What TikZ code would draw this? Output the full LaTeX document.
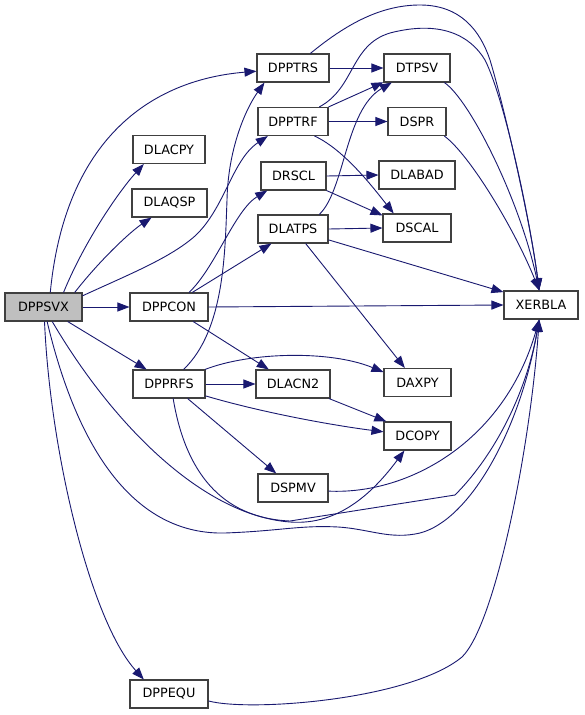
\documentclass[tikz,border=0pt]{standalone}
\usepackage{fontspec}
\setmainfont{DejaVu Sans}
\usetikzlibrary{arrows.meta}
\definecolor{edgec}{HTML}{191970}
\definecolor{rootfill}{HTML}{BFBFBF}
\begin{document}
\begin{tikzpicture}[x=1pt,y=-1pt,
  box/.style={draw=black!75, line width=1.1pt, fill=white, minimum height=28pt, inner sep=0pt, font=\fontsize{12.8}{15}\selectfont},
  call/.style={draw=edgec, line width=0.9pt, -{Triangle[length=12pt,width=9pt]}}]
\fill[white] (0,0) rectangle (584,715);
\useasboundingbox (0,0) rectangle (584,715);

\node[box, fill=rootfill, minimum width=77pt] (dppsvx) at (43.5,307) {DPPSVX};
\node[box, minimum width=72pt] (dlacpy) at (169,149.5) {DLACPY};
\node[box, minimum width=75pt] (dlaqsp) at (169.5,203) {DLAQSP};
\node[box, minimum width=78pt] (dppcon) at (169,307) {DPPCON};
\node[box, minimum width=72pt] (dpprfs) at (169,384) {DPPRFS};
\node[box, minimum width=78pt] (dppequ) at (169,694) {DPPEQU};
\node[box, minimum width=72pt] (dpptrs) at (293,68) {DPPTRS};
\node[box, minimum width=70pt] (dpptrf) at (293,121.5) {DPPTRF};
\node[box, minimum width=65pt] (drscl) at (293.5,176) {DRSCL};
\node[box, minimum width=70pt] (dlatps) at (293,229) {DLATPS};
\node[box, minimum width=74pt] (dlacn2) at (293,384) {DLACN2};
\node[box, minimum width=70pt] (dspmv) at (293,488) {DSPMV};
\node[box, minimum width=66pt] (dtpsv) at (417,68) {DTPSV};
\node[box, minimum width=58pt] (dspr) at (417,121.5) {DSPR};
\node[box, minimum width=76pt] (dlabad) at (417,175) {DLABAD};
\node[box, minimum width=68pt] (dscal) at (417,228) {DSCAL};
\node[box, minimum width=67pt] (daxpy) at (417.5,382.5) {DAXPY};
\node[box, minimum width=67pt] (dcopy) at (417.5,436) {DCOPY};
\node[box, minimum width=74pt] (xerbla) at (541,305) {XERBLA};

% DPPSVX
\draw[call] (dppsvx.65) .. controls (65,140) and (150,80) .. (dpptrs.185);
\draw[call] (dppsvx.36) .. controls (85,240) and (120,190) .. (dlacpy.210);
\draw[call] (dppsvx.25) .. controls (100,260) and (130,232) .. (dlaqsp.219);
\draw[call] (dppsvx.16) .. controls (130,274) and (170,258) .. (195,236) .. controls (225,208) and (232,160) .. (dpptrf.210);
\draw[call] (dppsvx.east) -- (dppcon.west);
\draw[call] (dppsvx.-31) -- (dpprfs.147);
\draw[call] (dppsvx.-86) .. controls (50,450) and (90,620) .. (dppequ.150);
\draw[call] (dppsvx.-59) .. controls (110,420) and (200,515) .. (290,522) .. controls (340,526) and (375,490) .. (dcopy.228);
\draw[call] (dppsvx.-76) .. controls (80,460) and (140,535) .. (225,533) .. controls (280,531) and (300,525) .. (338,527) .. controls (370,529) and (390,540) .. (420,533) .. controls (470,520) and (520,430) .. (xerbla.263);

% DPPRFS
\draw[call] (dpprfs.45) .. controls (225,330) and (225,250) .. (227,200) .. controls (228,150) and (245,110) .. (dpptrs.207);
\draw[call] (dpprfs.east) -- (dlacn2.west);
\draw[call] (dpprfs.22) .. controls (250,352) and (330,350) .. (daxpy.163);
\draw[call] (dpprfs.-18) .. controls (260,412) and (330,425) .. (dcopy.173);
\draw[call] (dpprfs.-38) -- (dspmv.139);
\draw[call] (dpprfs.-74) .. controls (185,470) and (220,518) .. (290,521) -- (455,495) .. controls (490,460) and (525,400) .. (xerbla.263);

% DPPCON
\draw[call] (dppcon.36) .. controls (215,268) and (235,210) .. (drscl.209);
\draw[call] (dppcon.32) -- (dlatps.214);
\draw[call] (dppcon.-31) -- (dlacn2.149);
\draw[call] (dppcon.east) -- (xerbla.west);

% DPPTRS
\draw[call] (dpptrs.east) -- (dtpsv.west);
\draw[call] (dpptrs.40) .. controls (345,25) and (380,5) .. (420,5) .. controls (460,5) and (480,30) .. (490,60) .. controls (505,110) and (530,220) .. (xerbla.97);

% DPPTRF
\draw[call] (dpptrf.north east) -- (dtpsv.203);
\draw[call] (dpptrf.east) -- (dspr.west);
\draw[call] (dpptrf.-34) .. controls (345,150) and (375,190) .. (dscal.148);
\draw[call] (dpptrf.29) .. controls (355,88) and (350,45) .. (390,33) .. controls (440,20) and (470,35) .. (485,60) .. controls (505,100) and (530,220) .. (xerbla.97);

% DRSCL
\draw[call] (drscl.east) -- (dlabad.west);
\draw[call] (drscl.south east) -- (dscal.160);

% DLATPS
\draw[call] (dlatps.29) .. controls (345,190) and (345,110) .. (dtpsv.210);
\draw[call] (dlatps.east) -- (dscal.west);
\draw[call] (dlatps.-17) -- (xerbla.161);
\draw[call] (dlatps.-49) -- (daxpy.131);

% DLACN2
\draw[call] (dlacn2.-22) -- (dcopy.155);

% DSPMV
\draw[call] (dspmv.-5) .. controls (410,495) and (505,440) .. (xerbla.263);

% DTPSV, DSPR
\draw[call] (dtpsv.-28) .. controls (470,100) and (520,200) .. (xerbla.97);
\draw[call] (dspr.-28) .. controls (470,155) and (515,230) .. (xerbla.97);

% DPPEQU
\draw[call] (dppequ.-10) .. controls (250,712) and (410,700) .. (462,657) .. controls (495,625) and (530,450) .. (xerbla.263);
\end{tikzpicture}
\end{document}
